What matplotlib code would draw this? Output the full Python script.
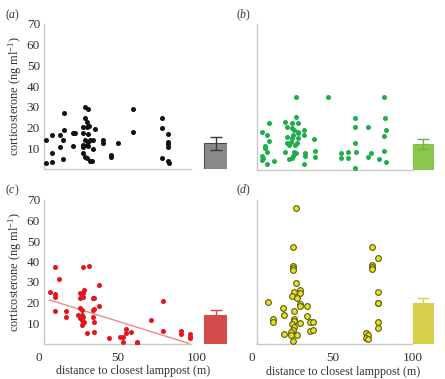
import matplotlib
matplotlib.use("Agg")
import matplotlib.pyplot as plt

plt.rcParams['font.family'] = 'Liberation Serif'
plt.rcParams['mathtext.fontset'] = 'custom'
plt.rcParams['mathtext.rm'] = 'Liberation Serif'
plt.rcParams['mathtext.it'] = 'Liberation Serif:italic'

# (a) black
xa = [4.7, 4.7, 8.3, 8.3, 8.3, 13.6, 15.2, 13.6, 15.2, 16.3, 16.3, 21.6, 22.9, 21.6,
      29.3, 31.4, 29.3, 30.4, 28.3, 30.4, 32.0, 28.3, 31.4, 35.6, 29.3, 31.4, 32.5,
      28.3, 30.4, 28.3, 31.4, 34.6, 34.6, 28.3, 29.3, 30.4, 32.5, 34.0, 40.9, 40.9,
      45.5, 45.5, 50.4, 59.8, 59.8, 77.7, 77.7, 81.9, 81.9, 81.9, 81.6, 77.7, 81.9, 82.2]
ya = [2.7, 14, 3.5, 7.5, 16.4, 16.4, 14, 10.8, 4.8, 27.2, 18.8, 17.5, 17.2, 11.1,
      30, 29, 24.5, 22.9, 20.4, 20.4, 20.6, 17.3, 17.0, 19.3, 14, 13, 14,
      11.5, 11.8, 10.7, 11.0, 14, 9.5, 7.6, 5.9, 5.2, 4, 4, 14, 12.7,
      6.8, 6, 12.7, 29, 18, 24.5, 19.6, 16.8, 12.9, 11.9, 10.8, 5.5, 3.9, 2.7]

# (b) green
xb = [27.1, 47.0, 82.2, 10.6, 6.0, 9.1, 10.6, 8.1, 8.1, 9.1, 6.0, 7.0, 6.4, 9.1, 13.9,
      20.5, 21.6, 27.1, 24.6, 28.4, 24.6, 26.3, 28.4, 32.5, 32.5, 21.9, 25.7, 24.6,
      28.4, 28.4, 21.6, 23.0, 24.2, 26.7, 27.8, 20.5, 26.3, 27.1, 25.7, 23.0, 25.0,
      32.9, 32.9, 32.5, 38.7, 39.1, 39.1, 55.3, 55.3, 59.4, 59.4, 64.0, 64.0, 64.0,
      64.4, 64.0, 72.2, 73.9, 72.2, 78.9, 82.6, 83.2, 82.2, 82.2, 83.2]
yb = [35.1, 35.1, 35.1, 22.7, 18.1, 16.8, 13.9, 11.5, 10.4, 8.8, 6.7, 5.6, 4.8, 2.9, 4.3,
      23.2, 20.8, 25.3, 22.7, 22.7, 20.3, 19.2, 18.4, 19.2, 16.8, 15.7, 16.8, 15.2,
      17.6, 15.2, 12.8, 12.0, 13.3, 12.0, 12.8, 8.8, 8.8, 8.0, 6.7, 5.3, 5.6,
      8.0, 6.9, 2.9, 14.9, 9.3, 6.4, 8.0, 5.9, 8.8, 5.6, 24.8, 20.5, 12.8,
      8.8, 1.1, 20.5, 8.3, 6.1, 5.1, 25.1, 19.2, 16.5, 9.3, 3.7]

# (c) red
xc = [10.4, 13.1, 7.2, 10.4, 10.4, 10.4, 17.3, 17.3, 27.8, 32.0, 38.2, 26.1, 27.8, 28.8,
      26.1, 27.8, 34.1, 35.1, 38.2, 26.1, 27.2, 34.1, 35.1, 25.0, 27.2, 28.2, 26.1,
      34.5, 27.2, 28.8, 34.9, 27.2, 28.2, 30.3, 34.9, 44.5, 51.3, 53.0, 53.3, 55.0,
      55.0, 58.6, 62.4, 62.4, 71.2, 78.5, 78.5, 89.6, 89.6, 95.3, 95.3, 95.3]
yc = [37.5, 31.3, 25.3, 24.1, 22.8, 15.9, 16.0, 12.8, 37.5, 38.0, 28.5, 24.8, 24.5, 26.1,
      22.0, 22.5, 22.0, 22.0, 18.3, 17.2, 16.3, 16.3, 16.7, 13.9, 13.9, 13.1, 12.6,
      13.1, 11.5, 10.6, 10.6, 9.0, 9.9, 5.0, 5.8, 2.8, 3.0, 3.0, 0.9, 7.0,
      5.0, 5.5, 0.9, 0.2, 11.5, 20.7, 6.2, 6.1, 4.6, 4.5, 3.3, 2.5]
trend_slope = -0.241
trend_intercept = 22.9
trend_range = [7, 95]

# (d) yellow
xd = [27.1, 25.7, 25.7, 25.7, 25.7, 27.1, 26.3, 29.8, 29.8, 25.0, 27.8, 29.8, 29.8,
      34.0, 26.3, 9.7, 19.5, 20.1, 13.3, 13.3, 26.3, 26.3, 34.0, 24.7, 26.3, 25.7,
      29.8, 36.0, 38.1, 36.0, 38.1, 19.9, 24.2, 24.2, 27.8, 25.7,
      74.7, 78.1, 74.7, 74.7, 74.7, 78.5, 78.5, 78.5, 78.1, 78.1, 70.8, 72.2, 70.8, 72.2]
yd = [66.3, 47.3, 38.1, 37.1, 36.0, 29.5, 25.4, 26.3, 24.6, 23.5, 22.2, 19.3, 18.5,
      18.6, 16.2, 20.6, 17.6, 14.1, 12.2, 10.5, 12.2, 11.2, 13.8, 9.6, 8.4, 6.8,
      10.0, 10.9, 10.9, 6.5, 6.8, 4.9, 5.7, 4.4, 4.4, 1.6,
      47.3, 41.7, 38.4, 37.3, 36.3, 25.1, 20.1, 19.8, 10.9, 7.6, 5.2, 4.4, 2.8, 2.3]

bar_means = [12.4, 12.5, 13.9, 19.8]
bar_errs = [3.1, 2.2, 2.4, 2.4]

fig = plt.figure(figsize=(4.45, 3.79), dpi=100)

W, H = 445.0, 379.0
# per panel: zero-x pixel, px per unit, zero-y pixel, top(70)-y pixel, xmax, spine start, spine end, bar centre, bar width
panels = [
    dict(x0=38.5, sx=1.585, y0=169, y70=24, xmax=119, s0=3.5, s1=96, bx=111.7, bw=14.1),
    dict(x0=252, sx=1.61, y0=170, y70=24, xmax=113, s0=3.1, s1=100, bx=106.4, bw=12.4),
    dict(x0=38.5, sx=1.585, y0=343.5, y70=200, xmax=119, s0=3.5, s1=96.5, bx=111.7, bw=14.1),
    dict(x0=252, sx=1.61, y0=344, y70=200, xmax=113, s0=3.1, s1=99.5, bx=106.4, bw=12.4),
]
xs = [xa, xb, xc, xd]
ys = [ya, yb, yc, yd]
labels = ['a', 'b', 'c', 'd']
bar_colors = ['#8a8a8a', '#8cc84b', '#d34b4b', '#d6cf4a']
bar_edges = ['#4a4a4a', '#7cbc48', '#d34b4b', '#d6cf4a']
err_colors = ['#3a3a3a', '#6fb04a', '#d34b4b', '#d6cf4a']

axes = []
for i, p in enumerate(panels):
    left = p['x0'] / W
    width = p['xmax'] * p['sx'] / W
    bottom = (H - p['y0']) / H
    height = (p['y0'] - p['y70']) / H
    ax = fig.add_axes([left, bottom, width, height])
    ax.set_xlim(0, p['xmax'])
    ax.set_ylim(0, 70)
    for s in ['top', 'right']:
        ax.spines[s].set_visible(False)
    ax.spines['left'].set_position(('data', p['s0']))
    ax.spines['left'].set_bounds(0, 70)
    ax.spines['bottom'].set_bounds(p['s0'], p['s1'])
    for s in ['left', 'bottom']:
        ax.spines[s].set_color('#c8c8c8')
        ax.spines[s].set_linewidth(1.0)
    ax.tick_params(length=0, labelsize=9.5, colors='#333333')
    ax.tick_params(axis='y', pad=3)
    ax.tick_params(axis='x', pad=6)
    ax.set_yticks([10, 20, 30, 40, 50, 60, 70])
    ax.set_xticks([0, 50, 100])
    if i in (1, 3):
        ax.set_yticklabels([])
    if i in (0, 1):
        ax.set_xticklabels([])
    if i in (2, 3):
        ax.set_xlabel('distance to closest lamppost (m)', fontsize=8.6, color='#333333', labelpad=1)
    axes.append(ax)

    ax.bar(p['bx'], bar_means[i], width=p['bw'], yerr=bar_errs[i], color=bar_colors[i],
           edgecolor=bar_edges[i], linewidth=0.8, ecolor=err_colors[i],
           capsize=4, error_kw=dict(elinewidth=1.0, capthick=1.0), zorder=2)

    fig.text(5 / W if i % 2 == 0 else 236 / W, (H - (15 if i < 2 else 190)) / H,
             r'($\it{%s}$)' % labels[i], fontsize=8.5, color='#333333', va='center')

axes[0].scatter(xa, ya, s=13, color='#111111', linewidths=0, zorder=3)
axes[1].scatter(xb, yb, s=13, color='#1fae4a', linewidths=0, zorder=3)
axes[2].scatter(xc, yc, s=13, color='#e3161c', linewidths=0, zorder=3)
axes[3].scatter(xd, yd, s=17, color='#e6e322', edgecolors='#5e5a10', linewidths=0.8, zorder=3)
axes[2].plot(trend_range, [trend_intercept + trend_slope * v for v in trend_range],
             color='#e88a8a', linewidth=1.0, zorder=2)

for i in (0, 2):
    p = panels[i]
    yc_mid = (H - (p['y0'] + p['y70']) / 2) / H
    fig.text(15 / W, yc_mid, r'corticosterone (ng ml$^{-1}$)', rotation=90,
             fontsize=8.8, color='#333333', ha='center', va='center')

fig.savefig('out.png', dpi=100)
